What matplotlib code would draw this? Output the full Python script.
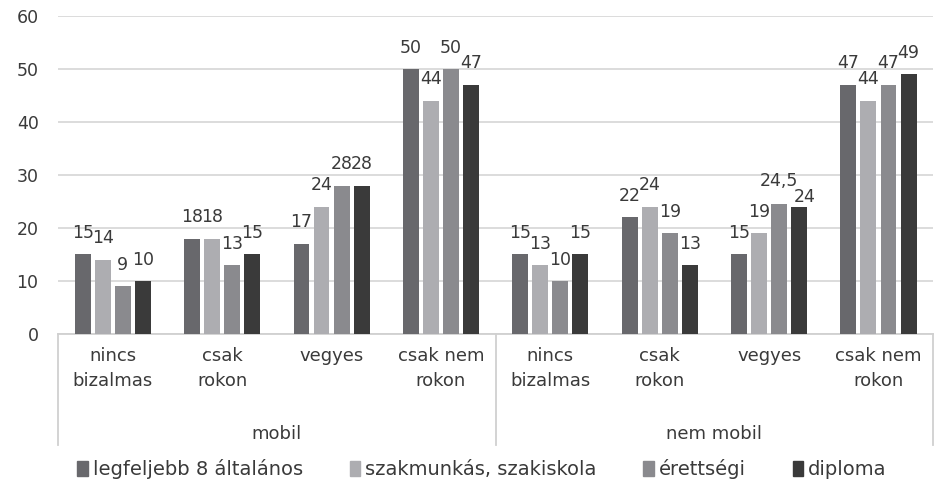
import matplotlib
matplotlib.use("Agg")
import matplotlib.pyplot as plt
import numpy as np

categories = ["nincs\nbizalmas", "csak\nrokon", "vegyes", "csak nem\nrokon",
              "nincs\nbizalmas", "csak\nrokon", "vegyes", "csak nem\nrokon"]
groups = ["mobil", "nem mobil"]
series_names = ["legfeljebb 8 általános", "szakmunkás, szakiskola", "érettségi", "diploma"]
s1 = [15, 18, 17, 50, 15, 22, 15, 47]
s2 = [14, 18, 24, 44, 13, 24, 19, 44]
s3 = [9, 13, 28, 50, 10, 19, 24.5, 47]
s4 = [10, 15, 28, 47, 15, 13, 24, 49]
colors = ["#68686c", "#adadb1", "#8a8a8e", "#3a3a3a"]
yticks = [0, 10, 20, 30, 40, 50, 60]

# label placement tweaks (styling): (series index, category index) -> extra offset
label_dy = {(3, 6): -2.2, (2, 6): 0.4}
label_dx = {(3, 6): 0.05}

plt.rcParams['font.family'] = ['DejaVu Sans']
txt = "#3a3a3a"

fig = plt.figure(figsize=(9.36, 4.9), dpi=100)
ax = fig.add_axes([0.062, 0.3184, 0.935, 0.649])
n = len(categories)
x = np.arange(n)
w = 0.146
step = 0.183
allv = [s1, s2, s3, s4]
for i, (vals, c) in enumerate(zip(allv, colors)):
    xs = x + (i - 1.5) * step
    ax.bar(xs, vals, width=w, color=c, zorder=3)
    for j, (xi, v) in enumerate(zip(xs, vals)):
        lab = (f"{v:g}").replace(".", ",")
        ax.text(xi + label_dx.get((i, j), 0), v + 3.1 + label_dy.get((i, j), 0), lab,
                ha="center", va="baseline", fontsize=12.5, color=txt, zorder=4)

ax.set_xlim(-0.5, n - 0.5)
ax.set_ylim(0, 60)
ax.set_yticks(yticks)
ax.set_yticklabels([str(t) for t in yticks], fontsize=12.5, color=txt)
ax.tick_params(axis="y", length=0, pad=14)
ax.set_xticks([])
ax.grid(axis="y", color="#d9d9d9", linewidth=1.3, zorder=0)
for s in ["top", "right", "left"]:
    ax.spines[s].set_visible(False)
ax.spines["bottom"].set_color("#d0d0d0")
ax.spines["bottom"].set_linewidth(1.3)

trans = ax.get_xaxis_transform()
for i, cat in enumerate(categories):
    ax.text(i, -0.04, cat, transform=trans, ha="center", va="top", fontsize=13,
            color=txt, linespacing=1.55)
for gi, g in enumerate(groups):
    ax.text(gi * 4 + 1.5, -0.285, g, transform=trans, ha="center", va="top",
            fontsize=13, color=txt)
for xb in [-0.5, 3.5, 7.5]:
    ax.plot([xb, xb], [0, -0.35], transform=trans, color="#d0d0d0", lw=1.3, clip_on=False)

handles = [plt.Rectangle((0, 0), 1, 1, color=c) for c in colors]
fig.legend(handles, series_names, loc="center", bbox_to_anchor=(0.515, 0.042), ncol=4,
           frameon=False, fontsize=14, handlelength=0.55, handleheight=0.85,
           handletextpad=0.25, columnspacing=2.4, labelcolor=txt)

fig.savefig("out.png", dpi=100)
